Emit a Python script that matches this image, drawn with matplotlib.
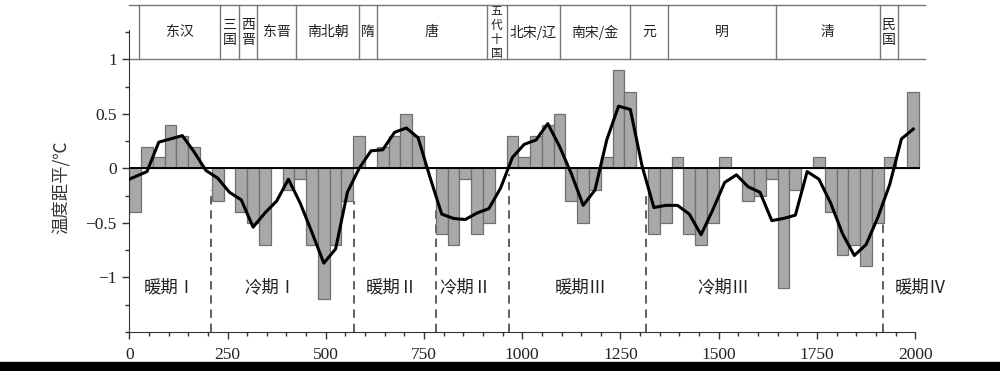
import matplotlib
matplotlib.use('Agg')
import matplotlib.pyplot as plt
from matplotlib.ticker import FixedLocator
from matplotlib.patches import Rectangle
import numpy as np

plt.rcParams['font.family'] = ['Liberation Serif', 'Noto Sans CJK SC']
cjk = ['Noto Sans CJK SC', 'DejaVu Sans']

# 30-year bins, 0-2010
bin_start = np.arange(0, 2010, 30)
anomaly = [-0.4, 0.2, 0.1, 0.4, 0.3, 0.2, 0, -0.3, 0, -0.4,
           -0.5, -0.7, 0, -0.2, -0.1, -0.7, -1.2, -0.7, -0.3, 0.3,
           0, 0.2, 0.3, 0.5, 0.3, 0, -0.6, -0.7, -0.1, -0.6,
           -0.5, 0, 0.3, 0.1, 0.3, 0.4, 0.5, -0.3, -0.5, -0.2,
           0.1, 0.9, 0.7, 0, -0.6, -0.5, 0.1, -0.6, -0.7, -0.5,
           0.1, 0, -0.3, -0.25, -0.1, -1.1, -0.2, 0, 0.1, -0.4,
           -0.8, -0.7, -0.9, -0.5, 0.1, 0, 0.7]

# smoothed curve
curve_year = [0, 45, 75, 105, 135, 165, 195, 225, 255, 285, 315, 345, 375, 405,
              435, 465, 495, 525, 555, 585, 615, 645, 675, 705, 735, 765, 795,
              825, 855, 885, 915, 945, 975, 1005, 1035, 1065, 1095, 1125, 1155,
              1185, 1215, 1245, 1275, 1305, 1335, 1365, 1395, 1425, 1455, 1485,
              1515, 1545, 1575, 1605, 1635, 1665, 1695, 1725, 1755, 1785, 1815,
              1845, 1875, 1905, 1935, 1965, 1995]
curve_val = [-0.10, -0.03, 0.24, 0.27, 0.30, 0.15, -0.02, -0.09, -0.22, -0.29,
             -0.54, -0.41, -0.30, -0.10, -0.32, -0.59, -0.87, -0.74, -0.22, 0.0,
             0.16, 0.17, 0.33, 0.37, 0.28, -0.08, -0.42, -0.46, -0.47, -0.41,
             -0.37, -0.18, 0.10, 0.22, 0.26, 0.41, 0.20, -0.05, -0.34, -0.20,
             0.26, 0.57, 0.54, 0.02, -0.36, -0.34, -0.34, -0.42, -0.61, -0.38,
             -0.13, -0.06, -0.17, -0.22, -0.48, -0.46, -0.43, -0.03, -0.10, -0.32,
             -0.60, -0.80, -0.70, -0.45, -0.15, 0.27, 0.36]

# warm / cold period boundaries
split_year = [208, 571, 780, 965, 1315, 1917]
split_top = [-0.2, -0.3, -0.35, -0.05, -0.25, -0.47]
period_name = ['暖期Ⅰ', '冷期Ⅰ', '暖期Ⅱ', '冷期Ⅱ', '暖期Ⅲ', '冷期Ⅲ', '暖期Ⅳ']
period_x = [104, 358, 668, 854, 1150, 1511, 2014]

# dynasties
dyn_edges = [25, 230, 280, 325, 425, 585, 630, 910, 960, 1095, 1275, 1370, 1645, 1910, 1955]
dyn_names = ['东汉', '三\n国', '西\n晋', '东晋', '南北朝', '隋', '唐', '五\n代\n十\n国',
             '北宋/辽', '南宋/金', '元', '明', '清', '民\n国']

fig = plt.figure(figsize=(10, 3.71), dpi=100)
ax = fig.add_axes([0.1293, 0.1057, 0.7977, 0.8813])
ax.set_xlim(0, 2030)
ax.set_ylim(-1.5, 1.5)

for xv, top in zip(split_year, split_top):
    ax.plot([xv, xv], [-1.5, top], color='#444444', lw=1.2, ls=(0, (5, 3.5)), zorder=1)

ax.bar(bin_start, anomaly, width=30, align='edge', color='#a8a8a8',
       edgecolor='#707070', linewidth=0.9, zorder=2)
ax.plot([0, 2010], [0, 0], color='black', lw=1.4, zorder=3)
ax.plot(curve_year, curve_val, color='black', lw=2.2, zorder=4)

for name, xv in zip(period_name, period_x):
    ax.text(xv, -1.09, name, ha='center', va='center', fontsize=12.5,
            family=cjk, color='#222222')

# dynasty strip
ax.plot([0, 2025], [1.5, 1.5], color='#777777', lw=1, clip_on=False)
ax.plot([0, 2025], [1.0, 1.0], color='#777777', lw=1)
for xv in dyn_edges:
    ax.plot([xv, xv], [1.0, 1.5], color='#777777', lw=1, clip_on=False)
for i, name in enumerate(dyn_names):
    xc = (dyn_edges[i] + dyn_edges[i + 1]) / 2
    fs = 8.5 if name.count('\n') > 2 else 10
    ax.text(xc, 1.25, name, ha='center', va='center', fontsize=fs,
            family=cjk, linespacing=1.1, color='#222222')

for s in ['top', 'right']:
    ax.spines[s].set_visible(False)
ax.spines['left'].set_bounds(-1.5, 1.27)
ax.spines['bottom'].set_bounds(0, 2000)
ax.spines['left'].set_color('#333333')
ax.spines['bottom'].set_color('#333333')

ax.set_xticks([0, 250, 500, 750, 1000, 1250, 1500, 1750, 2000])
ax.xaxis.set_minor_locator(FixedLocator(list(range(50, 2000, 50))))
ax.set_yticks([-1, -0.5, 0, 0.5, 1])
ax.set_yticklabels(['\u22121', '\u22120.5', '0', '0.5', '1'])
ax.yaxis.set_minor_locator(FixedLocator([-1.5, -1.25, -0.75, -0.25, 0.25, 0.75, 1.25]))
ax.tick_params(which='major', direction='out', length=5, width=1, color='#333333',
               labelsize=12.5, labelcolor='#222222')
ax.tick_params(which='minor', direction='out', length=3, width=1, color='#333333')
ax.tick_params(axis='x', pad=6)
ax.tick_params(axis='y', pad=4)

fig.text(0.062, 1 - 187 / 371, '温度距平/℃', rotation=90, ha='center', va='center',
         fontsize=12.5, family=cjk, color='#333333')

fig.patches.append(Rectangle((0, 0), 1, 9 / 371, transform=fig.transFigure,
                             color='black', zorder=10))

fig.savefig('out.png', dpi=100)
